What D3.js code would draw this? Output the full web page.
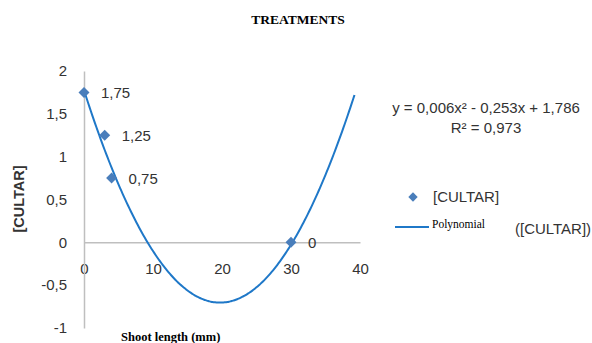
<!DOCTYPE html>
<html>
<head>
<meta charset="utf-8">
<script src="https://cdn.jsdelivr.net/npm/d3@7"></script>
<style>
  body { margin: 0; background: #fff; }
  text { font-family: "Liberation Sans", Arial, sans-serif; fill: #333; }
  .serif { font-family: "Liberation Serif", "Times New Roman", serif; fill: #000; }
</style>
</head>
<body>
<div id="viz"></div>
<script>
// values
var shootLength = [0, 3, 4, 30],
    cultar = [1.75, 1.25, 0.75, 0],
    xTicks = [0, 10, 20, 30, 40],
    yTicks = [-1, -0.5, 0, 0.5, 1, 1.5, 2];

// trend line as drawn (c, b, a) - shown equation is rounded
var trendCoef = [1.775, -0.2515, 0.00638],
    trendEnd = 39.2;

var eqText = ['y = 0,006x² - 0,253x + 1,786', 'R² = 0,973'];

var width = 592, height = 343;
var margin = { top: 71, left: 84 };
var plotW = 276, plotH = 257;
var fs = '15px';

var comma = function(d) { return String(d).replace('.', ','); };

var svg = d3.select('#viz').append('svg')
  .attr('width', width)
  .attr('height', height);

var x = d3.scaleLinear()
  .domain([0, 40])
  .range([margin.left, margin.left + plotW]);

var y = d3.scaleLinear()
  .domain([-1, 2])
  .range([margin.top + plotH, margin.top]);

// axes
var xAxis = d3.axisBottom(x)
  .tickValues(xTicks)
  .tickSize(0)
  .tickPadding(21)
  .tickFormat(comma);

var yAxis = d3.axisLeft(y)
  .tickValues(yTicks)
  .tickSize(0)
  .tickPadding(17)
  .tickFormat(comma);

var xGuide = svg.append('g')
  .attr('transform', 'translate(0,' + y(0) + ')')
  .call(xAxis);

var yGuide = svg.append('g')
  .attr('transform', 'translate(' + x(0) + ',0)')
  .call(yAxis);

[xGuide, yGuide].forEach(function(g) {
  g.select('.domain').attr('stroke', '#bfbfbf').attr('stroke-width', 1.5);
  g.selectAll('.tick text')
    .style('font-family', '"Liberation Sans", Arial, sans-serif')
    .style('font-size', fs)
    .attr('fill', '#333');
});

// trend curve
var curvePts = d3.range(0, trendEnd + 0.01, 0.2).map(function(v) {
  return [v, trendCoef[0] + trendCoef[1] * v + trendCoef[2] * v * v];
});

svg.append('path')
  .datum(curvePts)
  .attr('fill', 'none')
  .attr('stroke', '#1f78c8')
  .attr('stroke-width', 2)
  .attr('d', d3.line()
    .x(function(d) { return x(d[0]); })
    .y(function(d) { return y(d[1]); })
    .curve(d3.curveMonotoneX));

// markers
var diamond = d3.symbol().type(d3.symbolSquare).size(60);

svg.append('g').selectAll('path')
  .data(cultar)
  .enter().append('path')
    .attr('d', diamond)
    .attr('fill', '#4a7ebb')
    .attr('transform', function(d, i) {
      return 'translate(' + x(shootLength[i]) + ',' + y(d) + ') rotate(45)';
    });

svg.append('g').selectAll('text')
  .data(cultar)
  .enter().append('text')
    .attr('x', function(d, i) { return x(shootLength[i]) + 17; })
    .attr('y', function(d) { return y(d) + 6; })
    .style('font-size', fs)
    .text(comma);

// titles
svg.append('text')
  .attr('class', 'serif')
  .attr('x', 298)
  .attr('y', 24)
  .attr('text-anchor', 'middle')
  .style('font-size', '13.5px')
  .style('font-weight', 'bold')
  .text('TREATMENTS');

svg.append('text')
  .attr('class', 'serif')
  .attr('x', 121)
  .attr('y', 341)
  .style('font-size', '12.5px')
  .style('font-weight', 'bold')
  .text('Shoot length (mm)');

svg.append('text')
  .attr('transform', 'translate(24,199) rotate(-90)')
  .attr('text-anchor', 'middle')
  .style('font-size', '14.5px')
  .style('font-weight', 'bold')
  .text('[CULTAR]');

// equation
svg.append('g').selectAll('text')
  .data(eqText)
  .enter().append('text')
    .attr('x', 486)
    .attr('y', function(d, i) { return 113 + i * 20; })
    .attr('text-anchor', 'middle')
    .style('font-size', fs)
    .text(function(d) { return d; });

// legend
svg.append('path')
  .attr('d', diamond.size(44))
  .attr('fill', '#4a7ebb')
  .attr('transform', 'translate(413,197) rotate(45)');

svg.append('text')
  .attr('x', 433)
  .attr('y', 202)
  .style('font-size', fs)
  .text('[CULTAR]');

svg.append('line')
  .attr('x1', 395).attr('x2', 429)
  .attr('y1', 227).attr('y2', 227)
  .attr('stroke', '#1f78c8')
  .attr('stroke-width', 2);

svg.append('text')
  .attr('class', 'serif')
  .attr('x', 432)
  .attr('y', 228)
  .style('font-size', '11.5px')
  .text('Polynomial');

svg.append('text')
  .attr('x', 515)
  .attr('y', 234)
  .style('font-size', fs)
  .text('([CULTAR])');
</script>
</body>
</html>
